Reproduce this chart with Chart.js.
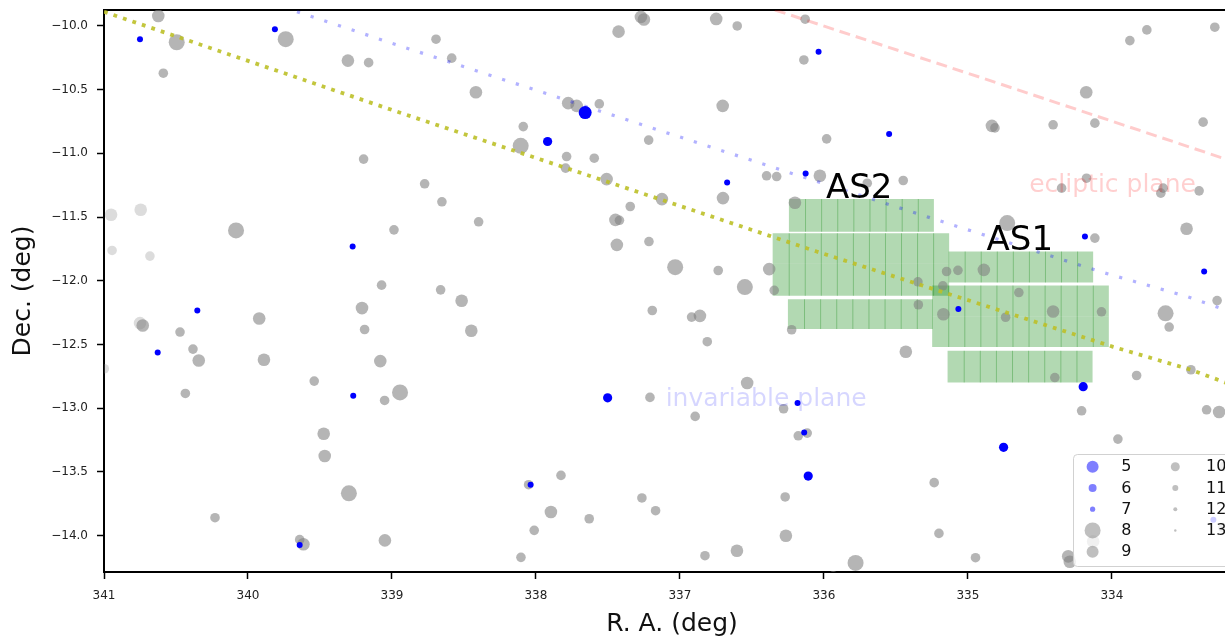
<!DOCTYPE html>
<html>
<head>
<meta charset="utf-8">
<script src="https://cdn.jsdelivr.net/npm/chart.js@4.4.1/dist/chart.umd.min.js"></script>
<style>
  html, body { margin: 0; padding: 0; overflow: hidden; background: #fff; width: 1225px; height: 639px; }
  canvas { display: block; }
</style>
</head>
<body>
<canvas id="sky" width="1240" height="639" style="width:1240px;height:639px"></canvas>
<script>
// ---------------- star catalogue: grey stars (R.A. deg, Dec. deg, magnitude) ----------------
const greyRA = [
  340.623, 340.495, 340.588, 339.738, 339.306, 339.162, 339.197, 340.083, 338.986, 339.072,
  340.731, 340.472, 340.382, 340.342, 340.435, 339.922, 339.889, 339.540, 339.474, 339.467,
  339.299, 340.229, 339.641, 339.615, 339.049, 339.208, 339.190, 339.081, 339.051, 338.944,
  338.694, 338.585, 338.417, 337.426, 337.271, 337.250, 336.748, 336.602, 336.130, 336.139,
  337.776, 337.717, 337.560, 336.703, 338.088, 338.106, 337.787, 337.595, 337.794, 337.217,
  337.509, 336.398, 336.328, 336.028, 338.773, 338.653, 338.398, 337.125, 337.345, 336.701,
  337.448, 337.420, 337.438, 337.215, 337.033, 336.734, 336.549, 336.380, 336.345, 336.201,
  338.662, 338.516, 338.449, 337.192, 336.919, 336.861, 336.810, 336.224, 336.533, 337.208,
  336.894, 336.280, 336.178, 336.116, 336.269, 336.264, 336.604, 336.826, 337.264, 337.169,
  337.826, 338.051, 337.896, 337.630, 338.012, 338.104, 333.875, 333.757, 333.285, 334.178,
  334.833, 334.812, 334.408, 334.118, 333.366, 335.981, 335.699, 335.449, 334.176, 334.349,
  333.644, 333.660, 333.394, 333.481, 334.727, 334.118, 333.269, 335.148, 335.069, 334.889,
  335.347, 335.174, 334.646, 335.344, 335.170, 334.738, 334.408, 334.072, 335.431, 334.396,
  334.210, 333.627, 333.602, 333.451, 333.828, 333.342, 333.255, 333.958, 335.234, 335.201,
  334.947, 335.780, 335.935, 334.303, 334.292, 334.130, 333.222, 333.229
];
const greyDec = [
  -9.922, -10.128, -10.371, -10.104, -10.272, -10.288, -11.045, -11.605, -11.600, -12.034,
  -12.351, -12.402, -12.536, -12.625, -12.884, -12.296, -12.620, -12.787, -13.200, -13.375,
  -13.668, -13.859, -14.031, -14.067, -14.037, -12.214, -12.382, -12.630, -12.939, -12.876,
  -10.104, -10.253, -10.520, -10.045, -9.929, -9.949, -9.945, -10.000, -9.947, -10.267,
  -10.606, -10.627, -10.612, -10.627, -10.790, -10.941, -11.025, -11.038, -11.116, -10.896,
  -11.202, -11.176, -11.182, -11.176, -11.239, -11.380, -11.537, -11.359, -11.417, -11.351,
  -11.522, -11.525, -11.718, -11.692, -11.893, -11.919, -12.049, -11.908, -12.075, -11.388,
  -12.071, -12.157, -12.392, -12.233, -12.285, -12.275, -12.478, -12.384, -12.802, -12.915,
  -13.064, -13.004, -13.216, -13.195, -13.696, -14.000, -14.118, -14.157, -13.704, -13.804,
  -13.527, -13.600, -13.814, -13.867, -13.958, -14.170, -10.115, -10.031, -10.010, -10.520,
  -10.784, -10.800, -10.776, -10.763, -10.755, -10.886, -11.234, -11.213, -11.195, -11.273,
  -11.273, -11.312, -11.294, -11.592, -11.547, -11.665, -12.155, -11.927, -11.918, -11.914,
  -12.008, -12.039, -12.092, -12.188, -12.263, -12.286, -12.241, -12.243, -12.557, -12.759,
  -13.020, -12.255, -12.363, -12.698, -12.743, -13.012, -13.030, -13.242, -13.584, -13.982,
  -14.173, -14.214, -14.314, -14.162, -14.204, -14.045, -13.456, -13.937
];
const greyMag = [
  9, 8, 10, 8, 9, 10, 10, 8, 10, 10,
  9, 10, 10, 9, 10, 9, 9, 10, 9, 9,
  8, 10, 10, 9, 9, 9, 10, 9, 10, 8,
  10, 10, 9, 9, 9, 9, 9, 10, 10, 10,
  9, 9, 10, 9, 10, 8, 10, 10, 10, 10,
  9, 10, 10, 9, 10, 10, 10, 9, 10, 9,
  9, 10, 9, 10, 8, 10, 8, 9, 10, 9,
  10, 9, 9, 10, 10, 9, 10, 10, 9, 10,
  10, 10, 10, 10, 10, 9, 9, 10, 10, 10,
  10, 10, 9, 10, 10, 10, 10, 10, 10, 9,
  9, 10, 10, 10, 10, 10, 10, 10, 10, 10,
  10, 10, 10, 9, 8, 10, 10, 10, 10, 9,
  10, 10, 10, 10, 9, 10, 9, 10, 9, 10,
  10, 8, 10, 10, 10, 10, 9, 10, 10, 10,
  10, 8, 10, 9, 9, 9, 10, 10
];

// faint stars near the east edge
const faintRA  = [340.951, 340.745, 340.944, 340.681, 340.750, 340.998];
const faintDec = [-11.482, -11.443, -11.762, -11.806, -12.332, -12.690];
const faintMag = [9, 9, 10, 10, 9, 10];

// bright (blue) stars
const blueRA = [
  340.750, 339.813, 339.273, 340.352, 340.627, 339.269, 339.641, 337.658, 337.919, 336.672,
  336.127, 336.037, 337.502, 336.183, 336.137, 336.109, 338.037, 335.547, 334.187, 333.359,
  335.066, 334.199, 334.752, 333.295
];
const blueDec = [
  -10.104, -10.026, -11.731, -12.233, -12.562, -12.902, -14.073, -10.680, -10.907, -11.229,
  -11.158, -10.202, -12.918, -12.959, -13.190, -13.532, -13.600, -10.849, -11.653, -11.927,
  -12.222, -12.831, -13.307, -13.875
];
const blueMag = [
  7, 7, 7, 7, 7, 7, 7, 5, 6, 7,
  7, 7, 6, 7, 7, 6, 7, 7, 7, 7,
  7, 6, 6, 7
];

// ---------------- observation fields: rows of adjacent tiles ----------------
const fieldRowRAStart = [336.243, 336.356, 336.356, 336.250, 335.134, 335.248, 335.248, 335.141];
const fieldRowRAEnd   = [335.236, 335.130, 335.130, 335.243, 334.130, 334.021, 334.021, 334.134];
const fieldRowDecTop  = [-11.359, -11.626, -11.867, -12.144, -11.770, -12.037, -12.280, -12.549];
const fieldRowDecBot  = [-11.616, -11.867, -12.118, -12.379, -12.013, -12.280, -12.520, -12.798];
const fieldRowTiles   = [9, 11, 11, 9, 9, 11, 11, 9];

// ---------------- reference planes ----------------
const invariableRA  = [339.66, 339.00, 337.58, 336.25, 335.00, 334.06, 333.48, 333.28, 333.11];
const invariableDec = [-9.888, -10.136, -10.659, -11.147, -11.600, -11.935, -12.123, -12.202, -12.27];
const eclipticRA    = [336.34, 334.824, 333.227, 333.11];
const eclipticDec   = [-9.875, -10.437, -11.038, -11.08];
const olivePlaneRA  = [341.00, 340.981, 338.967, 336.398, 336.051, 333.991, 333.451, 333.250, 333.11];
const olivePlaneDec = [-9.889, -9.896, -10.672, -11.639, -11.770, -12.518, -12.698, -12.782, -12.84];

// ---------------- annotations ----------------
const annotationText = ['AS2', 'AS1', 'ecliptic plane', 'invariable plane'];
const annotationRA   = [335.986, 334.870, 334.574, 337.099];
const annotationDec  = [-11.351, -11.757, -11.300, -12.986];

// ---------------- axes ----------------
const xTicks = [341, 340, 339, 338, 337, 336, 335, 334];
const yTicks = [-10, -10.5, -11, -11.5, -12, -12.5, -13, -13.5, -14];
const xMax = 341.0, xMin = 333.11;
const yMax = -9.875, yMin = -14.285;

// legend magnitudes
const legendBlueMags = [5, 6, 7];
const legendGreyMags = [8, 9, 10, 11, 12, 13];

// ---------------- styling ----------------
const FONT = '"DejaVu Sans", "Liberation Sans", sans-serif';
const radiusByMag = {5: 6.5, 6: 4.6, 7: 3, 8: 8, 9: 6.3, 10: 4.8, 11: 3.2, 12: 2.1, 13: 1.2};
const legendRadiusByMag = {5: 6, 6: 4, 7: 2.6, 8: 8, 9: 6, 10: 4.5, 11: 3, 12: 2, 13: 1.2};
const GREY = 'rgba(128,128,128,0.58)';
const FAINT = 'rgba(128,128,128,0.28)';
const BLUE = '#0000ff';
const TILE_FILL = 'rgba(0,128,0,0.3)';
const tileOverlap = 0.007;
const annotationStyle = [
  {size: 34, color: '#000000'},
  {size: 34, color: '#000000'},
  {size: 25, color: 'rgba(255,0,0,0.19)'},
  {size: 25, color: 'rgba(0,0,255,0.16)'}
];

function toPoints(ra, dec) { return ra.map((r, i) => ({x: r, y: dec[i]})); }

const datasets = [];

// field tiles, each one a closed filled outline
for (let r = 0; r < fieldRowTiles.length; r++) {
  const n = fieldRowTiles[r];
  const step = (fieldRowRAStart[r] - fieldRowRAEnd[r]) / n;
  const top = fieldRowDecTop[r], bot = fieldRowDecBot[r];
  for (let i = 0; i < n; i++) {
    const east = fieldRowRAStart[r] - i * step;
    const west = east - step - (i < n - 1 ? tileOverlap : 0);
    datasets.push({
      data: [{x: east, y: top}, {x: west, y: top}, {x: west, y: bot}, {x: east, y: bot}, {x: east, y: top}],
      showLine: true, fill: 'shape', backgroundColor: TILE_FILL,
      borderColor: 'rgba(0,0,0,0)', borderWidth: 0, pointRadius: 0, tension: 0,
      order: 50, clip: 0
    });
  }
}

datasets.push({
  data: toPoints(faintRA, faintDec),
  pointRadius: faintMag.map(m => radiusByMag[m]),
  pointBackgroundColor: FAINT, pointBorderWidth: 0, order: 40, clip: 0
});
datasets.push({
  data: toPoints(greyRA, greyDec),
  pointRadius: greyMag.map(m => radiusByMag[m]),
  pointBackgroundColor: GREY, pointBorderWidth: 0, order: 30, clip: 0
});
datasets.push({
  data: toPoints(blueRA, blueDec),
  pointRadius: blueMag.map(m => radiusByMag[m]),
  pointBackgroundColor: BLUE, pointBorderWidth: 0, order: 20, clip: 0
});

function planeLine(ra, dec, color, width, dash) {
  return {
    data: toPoints(ra, dec), showLine: true, fill: false, pointRadius: 0,
    borderColor: color, borderWidth: width, borderDash: dash, borderCapStyle: 'butt',
    tension: 0, order: 10, clip: 0
  };
}
datasets.push(planeLine(olivePlaneRA, olivePlaneDec, 'rgba(188,192,40,0.9)', 3.8, [3.8, 6.2]));
datasets.push(planeLine(invariableRA, invariableDec, 'rgba(0,0,255,0.3)', 3.2, [3.2, 11.2]));
datasets.push(planeLine(eclipticRA, eclipticDec, 'rgba(255,0,0,0.2)', 3, [11, 6]));

// text labels placed in sky coordinates
const annotationPlugin = {
  id: 'skyLabels',
  afterDatasetsDraw(chart) {
    const {ctx, chartArea, scales} = chart;
    ctx.save();
    ctx.beginPath();
    ctx.rect(chartArea.left, chartArea.top, chartArea.right - chartArea.left, chartArea.bottom - chartArea.top);
    ctx.clip();
    annotationText.forEach((t, i) => {
      const st = annotationStyle[i];
      ctx.font = st.size + 'px ' + FONT;
      ctx.fillStyle = st.color;
      ctx.textAlign = 'left';
      ctx.textBaseline = 'alphabetic';
      ctx.fillText(t, scales.x.getPixelForValue(annotationRA[i]), scales.y.getPixelForValue(annotationDec[i]));
    });
    ctx.restore();
  }
};

// magnitude key in the lower right corner
const magLegendPlugin = {
  id: 'magLegend',
  afterDatasetsDraw(chart) {
    const {ctx, chartArea} = chart;
    const boxW = 160, boxH = 112;
    const x0 = chartArea.right - 7 - boxW;
    const y0 = chartArea.bottom - 6 - boxH;
    ctx.save();
    ctx.beginPath();
    ctx.roundRect(x0 + 0.5, y0 + 0.5, boxW, boxH, 4);
    ctx.fillStyle = 'rgba(255,255,255,0.8)';
    ctx.fill();
    ctx.lineWidth = 1;
    ctx.strokeStyle = 'rgba(204,204,204,0.9)';
    ctx.stroke();

    const entries = legendBlueMags.map(m => ({m, c: 'rgba(0,0,255,0.5)'}))
      .concat(legendGreyMags.map(m => ({m, c: 'rgba(128,128,128,0.5)'})));
    const perCol = 5;
    ctx.font = '16px ' + FONT;
    ctx.textAlign = 'left';
    ctx.textBaseline = 'middle';
    entries.forEach((e, k) => {
      const col = Math.floor(k / perCol), row = k % perCol;
      const mx = x0 + (col === 0 ? 19.6 : 102.3);
      const tx = x0 + (col === 0 ? 48.3 : 133);
      const cy = y0 + 12.7 + row * 21.25;
      ctx.beginPath();
      ctx.arc(mx, cy, legendRadiusByMag[e.m], 0, Math.PI * 2);
      ctx.fillStyle = e.c;
      ctx.fill();
      ctx.fillStyle = '#111';
      ctx.fillText(String(e.m), tx, cy + 0.5);
    });
    ctx.restore();
  }
};

const tickFont = {family: FONT, size: 12};
const titleFont = {family: FONT, size: 25};

// the plot frame is fixed; scales must not reserve extra room for edge labels
function noEdgePadding(s) {
  s.paddingTop = 0; s.paddingBottom = 0; s.paddingLeft = 0; s.paddingRight = 0;
}

new Chart(document.getElementById('sky'), {
  type: 'scatter',
  data: {datasets},
  plugins: [annotationPlugin, magLegendPlugin],
  options: {
    responsive: false,
    animation: false,
    devicePixelRatio: 1,
    events: [],
    layout: {padding: 0, autoPadding: false},
    plugins: {legend: {display: false}, tooltip: {enabled: false}},
    scales: {
      x: {
        type: 'linear', position: 'bottom', reverse: true, min: xMin, max: xMax,
        afterBuildTicks: s => { s.ticks = xTicks.map(v => ({value: v})); },
        afterFit: s => { s.height = 67; noEdgePadding(s); },
        ticks: {autoSkip: false, maxRotation: 0, padding: 10, color: '#222', font: tickFont,
                callback: v => String(v)},
        grid: {drawOnChartArea: false, drawTicks: true, tickLength: 7, tickWidth: 1.5, tickColor: '#000'},
        border: {display: true, color: '#000', width: 2},
        title: {display: true, text: 'R. A. (deg)', color: '#111', font: titleFont, padding: {top: 0, bottom: 0}}
      },
      xTop: {
        axis: 'x', type: 'linear', position: 'top', reverse: true, min: xMin, max: xMax,
        afterFit: s => { s.height = 10; noEdgePadding(s); },
        ticks: {display: false},
        grid: {display: true, drawOnChartArea: false, drawTicks: false},
        border: {display: true, color: '#000', width: 2}
      },
      y: {
        type: 'linear', position: 'left', min: yMin, max: yMax,
        afterBuildTicks: s => { s.ticks = yTicks.map(v => ({value: v})); },
        afterFit: s => { s.width = 104; noEdgePadding(s); },
        ticks: {autoSkip: false, padding: 9, color: '#222', font: tickFont,
                callback: v => (v < 0 ? '\u2212' : '') + Math.abs(v).toFixed(1)},
        grid: {drawOnChartArea: false, drawTicks: true, tickLength: 7, tickWidth: 1.5, tickColor: '#000'},
        border: {display: true, color: '#000', width: 2},
        title: {display: true, text: 'Dec. (deg)', color: '#111', font: titleFont, padding: {top: 8, bottom: 0}}
      }
    }
  }
});
</script>
</body>
</html>
